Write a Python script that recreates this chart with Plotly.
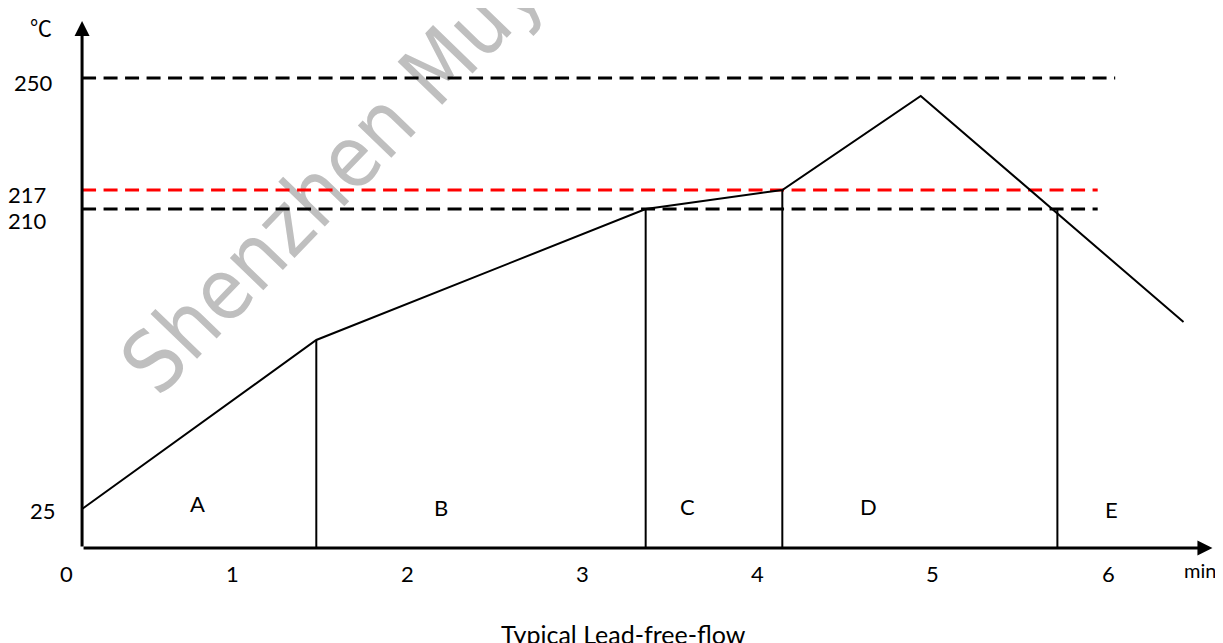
import plotly.graph_objects as go

# ---------------- data (schematic lead-free reflow profile) ----------------
# x: time in minutes (schematic axis), y: schematic height above the time axis
PROFILE_T = [0.143, 1.48, 3.36, 4.14, 4.93, 6.43]
PROFILE_H = [39, 208, 339, 358, 452, 226]

ZONE_EDGE_T = [1.48, 3.36, 4.14, 5.71]
ZONE_EDGE_H = [208, 339, 358, 339]

ZONE_NAMES = ["A", "B", "C", "D", "E"]
ZONE_NAME_T = [0.80, 2.19, 3.60, 4.63, 6.02]
ZONE_NAME_H = [45, 41, 42, 42, 39]

LEVEL_NAMES = ["250", "217", "210"]
LEVEL_H = [470, 358, 339]
LEVEL_END_T = [6.04, 5.94, 5.94]
LEVEL_COLORS = ["#000000", "#FF0000", "#000000"]

Y_TICK_TEXT = ["250", "217", "210", "25"]
Y_TICK_T = [-0.137, -0.171, -0.171, -0.080]
Y_TICK_H = [466, 354, 328, 38]

X_TICK_TEXT = ["0", "1", "2", "3", "4", "5", "6"]
X_TICK_T = [0.057, 1, 2, 3, 4, 5, 6]
X_TICK_H = -25

ORIGIN_T = 0.143
X_AXIS_END_T = 6.595
Y_AXIS_END_H = 527

UNIT_Y = "℃"
UNIT_X = "min"
TITLE = "Typical Lead-free-flow"
WATERMARK = "Shenzhen Muyu"

FONT = "Lato, 'Open Sans', sans-serif"

fig = go.Figure()

# dashed reference levels
for h, end, col in zip(LEVEL_H, LEVEL_END_T, LEVEL_COLORS):
    fig.add_trace(go.Scatter(
        x=[ORIGIN_T, end], y=[h, h], mode="lines",
        line=dict(color=col, width=3, dash="14px,7.5px"),
        hoverinfo="skip", showlegend=False))

# zone boundaries
for t, h in zip(ZONE_EDGE_T, ZONE_EDGE_H):
    fig.add_trace(go.Scatter(
        x=[t, t], y=[0, h], mode="lines",
        line=dict(color="#000000", width=2),
        hoverinfo="skip", showlegend=False))

# profile
fig.add_trace(go.Scatter(
    x=PROFILE_T, y=PROFILE_H, mode="lines",
    line=dict(color="#000000", width=2),
    hoverinfo="skip", showlegend=False))

annotations = []
# axes with arrowheads
annotations.append(dict(x=X_AXIS_END_T, y=0, ax=ORIGIN_T, ay=0, xref="x", yref="y",
                        axref="x", ayref="y", text="", showarrow=True, arrowhead=2,
                        arrowsize=1, arrowwidth=3, arrowcolor="#000000", standoff=0,
                        startstandoff=0))
annotations.append(dict(x=ORIGIN_T, y=Y_AXIS_END_H, ax=ORIGIN_T, ay=0, xref="x", yref="y",
                        axref="x", ayref="y", text="", showarrow=True, arrowhead=2,
                        arrowsize=1, arrowwidth=3, arrowcolor="#000000", standoff=0,
                        startstandoff=0))

for txt, t, h in zip(Y_TICK_TEXT, Y_TICK_T, Y_TICK_H):
    annotations.append(dict(x=t, y=h, xref="x", yref="y", text=txt, showarrow=False,
                            font=dict(family=FONT, size=22, color="#000000")))
for txt, t in zip(X_TICK_TEXT, X_TICK_T):
    annotations.append(dict(x=t, y=X_TICK_H, xref="x", yref="y", text=txt, showarrow=False,
                            font=dict(family=FONT, size=22, color="#000000")))
for txt, t, h in zip(ZONE_NAMES, ZONE_NAME_T, ZONE_NAME_H):
    annotations.append(dict(x=t, y=h, xref="x", yref="y", text=txt, showarrow=False,
                            font=dict(family=FONT, size=22, color="#000000")))

annotations.append(dict(x=-0.091, y=522, xref="x", yref="y", text=UNIT_Y, showarrow=False,
                        font=dict(family="'Noto Sans CJK SC', sans-serif", size=22,
                                  color="#000000")))
annotations.append(dict(x=6.525, y=-22, xref="x", yref="y", text=UNIT_X, showarrow=False,
                        font=dict(family=FONT, size=20, color="#000000")))
annotations.append(dict(x=3.236, y=-86, xref="x", yref="y", text=TITLE, showarrow=False,
                        font=dict(family=FONT, size=25, color="#000000")))

# watermark (drawn beneath the chart lines)
shapes = [dict(type="line", xref="x", yref="y", layer="below",
               x0=0.4395, y0=175, x1=2.842, y1=611,
               line=dict(width=0, color="rgba(0,0,0,0)"),
               label=dict(text=WATERMARK, textposition="middle",
                          yanchor="middle",
                          font=dict(family="'Liberation Sans Narrow', 'DejaVu Sans Condensed', sans-serif",
                                    size=85, color="#BFBFBF")))]

# the page body has an 8px margin, so the figure is 8px smaller and its ranges start 8px in
fig.update_layout(
    width=1215, height=635,
    margin=dict(l=0, r=0, t=0, b=0),
    paper_bgcolor="#FFFFFF", plot_bgcolor="#FFFFFF",
    xaxis=dict(visible=False, range=[-0.2797, 6.6553], fixedrange=True),
    yaxis=dict(visible=False, range=[-95, 540], fixedrange=True),
    annotations=annotations,
    shapes=shapes,
    showlegend=False,
)

fig.write_html("out.html", config={"displayModeBar": False})
